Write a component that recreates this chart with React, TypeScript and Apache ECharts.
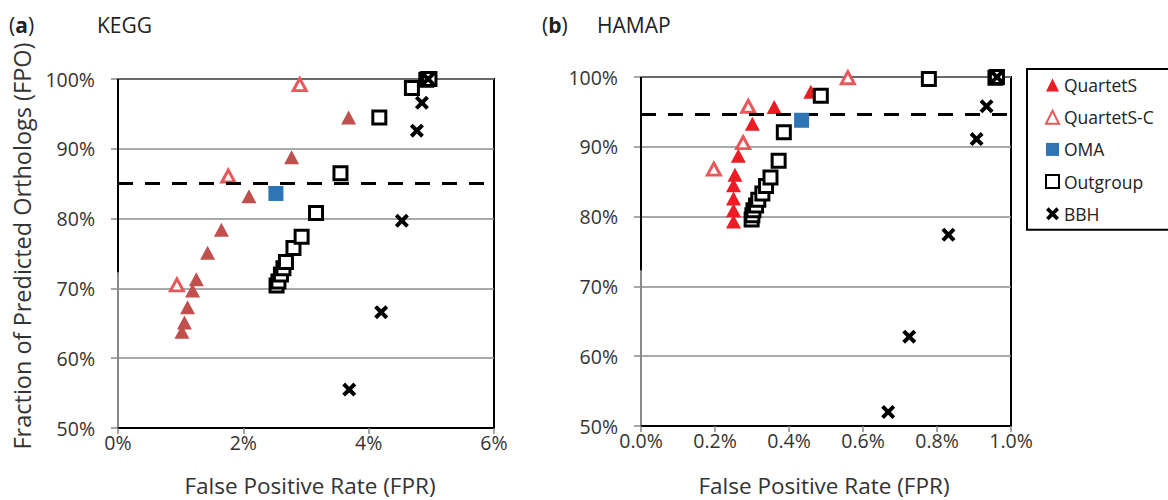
import React, { useEffect, useRef } from "react";
import * as echarts from "echarts";

// ---- KEGG (panel a) ----
const keggQuartetS = [[1.02, 63.8], [1.06, 65.1], [1.11, 67.3], [1.19, 69.7], [1.25, 71.3], [1.43, 75.1], [1.65, 78.4], [2.09, 83.2], [2.77, 88.8], [3.68, 94.5], [4.95, 100]];
const keggQuartetSC = [[0.94, 70.5], [1.76, 86.1], [2.9, 99.2]];
const keggOMA = [[2.52, 83.6]];
const keggOutgroup = [[2.53, 70.4], [2.56, 71.0], [2.6, 72.0], [2.64, 72.9], [2.68, 73.8], [2.8, 75.8], [2.93, 77.4], [3.16, 80.8], [3.55, 86.5], [4.17, 94.5], [4.69, 98.7], [4.92, 99.9], [4.95, 100], [4.97, 100]];
const keggBBH = [[3.69, 55.5], [4.2, 66.6], [4.53, 79.7], [4.77, 92.6], [4.85, 96.6], [4.95, 100]];
const keggThreshold = 85;

// ---- HAMAP (panel b) ----
const hamapQuartetS = [[0.25, 79.3], [0.25, 80.9], [0.25, 82.6], [0.25, 84.5], [0.254, 86.0], [0.263, 88.7], [0.276, 90.6], [0.301, 93.3], [0.36, 95.7], [0.459, 97.9], [0.962, 100]];
const hamapQuartetSC = [[0.197, 86.8], [0.276, 90.6], [0.29, 95.8], [0.559, 99.9]];
const hamapOMA = [[0.434, 93.8]];
const hamapOutgroup = [[0.299, 79.6], [0.301, 80.2], [0.304, 80.9], [0.311, 81.6], [0.317, 82.4], [0.328, 83.3], [0.338, 84.4], [0.35, 85.6], [0.372, 88.0], [0.386, 92.1], [0.486, 97.3], [0.778, 99.7], [0.958, 99.9], [0.962, 100]];
const hamapBBH = [[0.668, 52.0], [0.725, 62.8], [0.831, 77.4], [0.907, 91.1], [0.934, 95.8], [0.962, 100]];
const hamapThreshold = 94.7;

const legendNames = ["QuartetS", "QuartetS-C", "OMA", "Outgroup", "BBH"];
const keggXTicks = { min: 0, max: 6, interval: 2 };
const hamapXTicks = { min: 0, max: 1, interval: 0.2 };
const yTicks = { min: 50, max: 100, interval: 10 };

const FONT = "'Open Sans', sans-serif";
const XPATH = "path://M2,0 L5,3 L8,0 L10,2 L7,5 L10,8 L8,10 L5,7 L2,10 L0,8 L3,5 L0,2 Z";

function seriesFor(idx: number, qs: number[][], qsc: number[][], oma: number[][], og: number[][], bbh: number[][], qsColor: string) {
  const base = { type: "scatter", xAxisIndex: idx, yAxisIndex: idx };
  return [
    { ...base, name: "QuartetS", data: qs, symbol: "triangle", symbolSize: [15, 14], itemStyle: { color: qsColor, opacity: 1 }, z: 3 },
    { ...base, name: "QuartetS-C", data: qsc, symbol: "triangle", symbolSize: [13, 12], itemStyle: { color: "#fff", borderColor: "#E8595B", borderWidth: 3, opacity: 1 }, z: 3 },
    { ...base, name: "OMA", data: oma, symbol: "rect", symbolSize: 15, itemStyle: { color: "#2E75B6", opacity: 1 }, z: 5 },
    { ...base, name: "Outgroup", data: og, symbol: "rect", symbolSize: 13, itemStyle: { color: "#fff", borderColor: "#000", borderWidth: 3, opacity: 1 }, z: 4 },
    { ...base, name: "BBH", data: bbh, symbol: XPATH, symbolSize: 14, itemStyle: { color: "#000", opacity: 1 }, z: 5 },
  ];
}

function lineSeries(idx: number, xMax: number, thr: number) {
  return {
    type: "scatter",
    xAxisIndex: idx,
    yAxisIndex: idx,
    data: [],
    silent: true,
    z: 7,
    markLine: {
      silent: true,
      symbol: "none",
      label: { show: false },
      animation: false,
      data: [
        [
          { coord: [0, thr], lineStyle: { color: "#000", width: 3, type: [15, 12] } },
          { coord: [xMax, thr] },
        ],
        [
          { coord: [0, 72.3], lineStyle: { color: "#000", width: 2, type: "solid" } },
          { coord: [0, 100] },
        ],
      ],
    },
  };
}

function xAxis(idx: number, t: { min: number; max: number; interval: number }, dec: number) {
  return {
    type: "value",
    gridIndex: idx,
    min: t.min,
    max: t.max,
    interval: t.interval,
    axisLine: { show: true, lineStyle: { color: "#000", width: 2 } },
    axisTick: { show: true, length: 6, lineStyle: { color: "#888", width: 1.5 } },
    splitLine: { show: false },
    axisLabel: { formatter: (v: number) => v.toFixed(dec) + "%", fontFamily: FONT, fontSize: 19.5, color: "#333", margin: 4 },
  };
}

function yAxis(idx: number) {
  return {
    type: "value",
    gridIndex: idx,
    min: yTicks.min,
    max: yTicks.max,
    interval: yTicks.interval,
    axisLine: { show: true, lineStyle: { color: "#8a8a8a", width: 2 } },
    axisTick: { show: true, length: 7, lineStyle: { color: "#888", width: 1.5 } },
    splitLine: { show: true, lineStyle: { color: "#8c8c8c", width: 1.5 } },
    axisLabel: { formatter: "{value}%", fontFamily: FONT, fontSize: 19.5, color: "#333", margin: 23 },
  };
}

export default function App() {
  const ref = useRef<HTMLDivElement>(null);
  useEffect(() => {
    if (!ref.current) return;
    const chart = echarts.init(ref.current, null, { renderer: "svg" });
    const titleStyle = { fontFamily: FONT, fontSize: 21, fill: "#222" };
    const bold = { b: { fontFamily: FONT, fontSize: 21, fontWeight: "bold", fill: "#222" } };
    chart.setOption({
      animation: false,
      backgroundColor: "#fff",
      grid: [
        { left: 118, top: 79, width: 376, height: 349, show: true, borderColor: "#000", borderWidth: 2, backgroundColor: "transparent" },
        { left: 641, top: 77, width: 370, height: 349, show: true, borderColor: "#000", borderWidth: 2, backgroundColor: "transparent" },
      ],
      xAxis: [xAxis(0, keggXTicks, 0), xAxis(1, hamapXTicks, 1)],
      yAxis: [yAxis(0), yAxis(1)],
      legend: {
        data: legendNames,
        orient: "vertical",
        left: 1027,
        top: 69,
        itemWidth: 13,
        itemHeight: 13,
        itemGap: 14.2,
        padding: [7, 30, 7, 18],
        borderColor: "#000",
        borderWidth: 2,
        selectedMode: false,
        textStyle: { fontFamily: FONT, fontSize: 17.5, color: "#222" },
      },
      series: [
        ...seriesFor(1, hamapQuartetS, hamapQuartetSC, hamapOMA, hamapOutgroup, hamapBBH, "#ED1C24"),
        ...seriesFor(0, keggQuartetS, keggQuartetSC, keggOMA, keggOutgroup, keggBBH, "#C0504D"),
        lineSeries(0, keggXTicks.max, keggThreshold),
        lineSeries(1, hamapXTicks.max, hamapThreshold),
      ],
      graphic: [
        { type: "text", x: 9, y: 25, style: { ...titleStyle, text: "({b|a})", verticalAlign: "middle", rich: bold } },
        { type: "text", x: 97, y: 25, style: { ...titleStyle, text: "KEGG", verticalAlign: "middle" } },
        { type: "text", x: 542, y: 25, style: { ...titleStyle, text: "({b|b})", verticalAlign: "middle", rich: bold } },
        { type: "text", x: 597, y: 25, style: { ...titleStyle, text: "HAMAP", verticalAlign: "middle" } },
        { type: "text", x: 22, y: 246, rotation: Math.PI / 2, style: { fontFamily: FONT, fontSize: 23.5, fill: "#333", text: "Fraction of Predicted Orthologs (FPO)", align: "center", verticalAlign: "middle" } },
        { type: "text", x: 310, y: 485, style: { fontFamily: FONT, fontSize: 22.5, fill: "#333", text: "False Positive Rate (FPR)", align: "center", verticalAlign: "middle" } },
        { type: "text", x: 824, y: 485, style: { fontFamily: FONT, fontSize: 22.5, fill: "#333", text: "False Positive Rate (FPR)", align: "center", verticalAlign: "middle" } },
      ],
    });
    return () => chart.dispose();
  }, []);
  return <div ref={ref} style={{ position: "absolute", left: 0, top: 0, width: 1168, height: 500 }} />;
}
